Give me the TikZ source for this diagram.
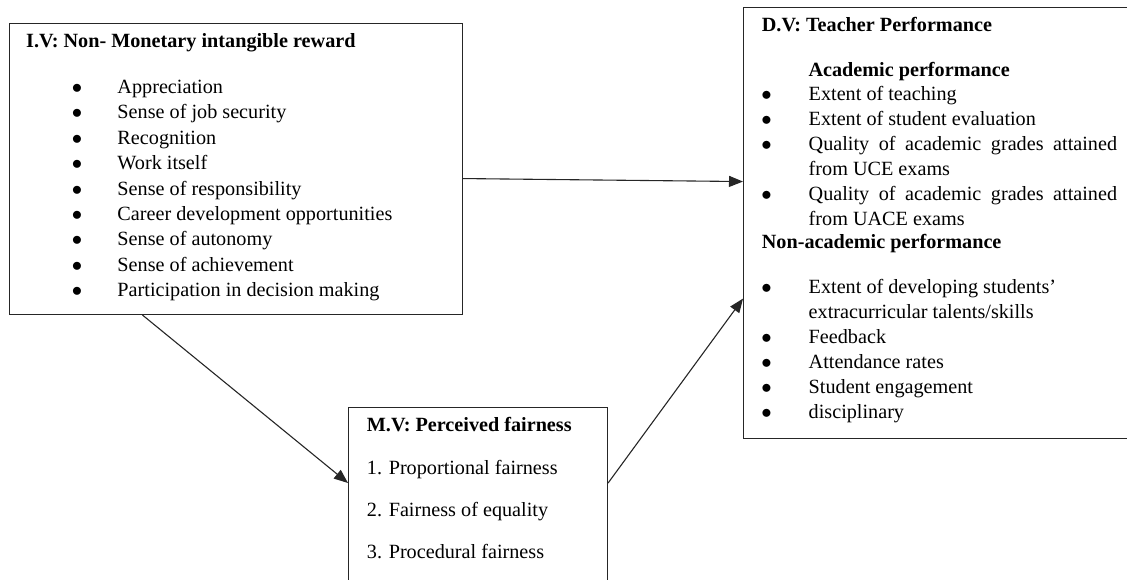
\documentclass[tikz,border=0pt]{standalone}
\usepackage{fontspec}
\setmainfont{Liberation Serif}
\usetikzlibrary{matrix,arrows.meta}

\tikzset{
  box/.style={draw=black!85, line width=1.1pt, rectangle, inner sep=0pt, anchor=north west},
  head/.style={font=\bfseries, anchor=base west, inner sep=0pt},
  link/.style={draw=black!85, line width=1.1pt, -{Triangle[length=14pt,width=11pt]}},
  itemlist/.style={matrix of nodes, inner sep=0pt, anchor=north west,
      row sep={#1,between origins}, column sep=0pt,
      nodes={anchor=base west, inner sep=0pt, text height=15pt, text depth=5pt}},
}

\begin{document}
\fontsize{20.2}{25}\selectfont
\begin{tikzpicture}[x=1pt, y=-1pt]
      \useasboundingbox (0,0) rectangle (1127,579);
      \clip (0,0) rectangle (1127,579);

      % Boxes
      \node(iv)[box, minimum width=453pt, minimum height=291pt] at (9,23) {};
      \node(dv)[box, minimum width=383.5pt, minimum height=430.5pt] at (743,7) {};
      \node(mv)[box, minimum width=259pt, minimum height=190pt] at (348,407) {};

      % Independent variable
      \node(ivtitle)[head] at (26,47) {I.V: Non- Monetary intangible reward};
      \matrix(ivlist)[itemlist=25.4pt,
          column 1/.style={nodes={text width=45.6pt, align=left}}] at (71.7,78.3)
      {
          $\bullet$ & Appreciation \\
          $\bullet$ & Sense of job security \\
          $\bullet$ & Recognition \\
          $\bullet$ & Work itself \\
          $\bullet$ & Sense of responsibility \\
          $\bullet$ & Career development opportunities \\
          $\bullet$ & Sense of autonomy \\
          $\bullet$ & Sense of achievement \\
          $\bullet$ & Participation in decision making \\
      };

      % Dependent variable
      \node(dvtitle)[head] at (761.7,31.7) {D.V: Teacher Performance};
      \node(acad)[head] at (808.3,76) {Academic performance};
      \matrix(acadlist)[itemlist=25pt,
          column 1/.style={nodes={text width=47.3pt, align=left}}] at (761,85)
      {
          $\bullet$ & Extent of teaching \\
          $\bullet$ & Extent of student evaluation \\
          $\bullet$ & \makebox[308.4pt][s]{Quality of academic grades attained} \\
                    & from UCE exams \\
          $\bullet$ & \makebox[308.4pt][s]{Quality of academic grades attained} \\
                    & from UACE exams \\
      };
      \node(nonacad)[head] at (761.7,248) {Non-academic performance};
      \matrix(nonlist)[itemlist=25pt,
          column 1/.style={nodes={text width=47.3pt, align=left}}] at (761,278)
      {
          $\bullet$ & Extent of developing students’ \\
                    & extracurricular talents/skills \\
          $\bullet$ & Feedback \\
          $\bullet$ & Attendance rates \\
          $\bullet$ & Student engagement \\
          $\bullet$ & disciplinary \\
      };

      % Mediating variable
      \node(mvtitle)[head] at (366.7,431.7) {M.V: Perceived fairness};
      \matrix(mvlist)[itemlist=42.2pt] at (366.7,459)
      {
          1. Proportional fairness \\
          2. Fairness of equality \\
          3. Procedural fairness \\
      };

      % Arrows
      \draw[link] ([yshift=-9.5pt]iv.east) -- ([yshift=41.25pt]dv.west);
      \draw[link] ([xshift=-93.5pt]iv.south) -- ([yshift=-76pt]mv.north west);
      \draw[link] ([yshift=-76pt]mv.north east) -- ([yshift=140pt]dv.south west);

\end{tikzpicture}
\end{document}
